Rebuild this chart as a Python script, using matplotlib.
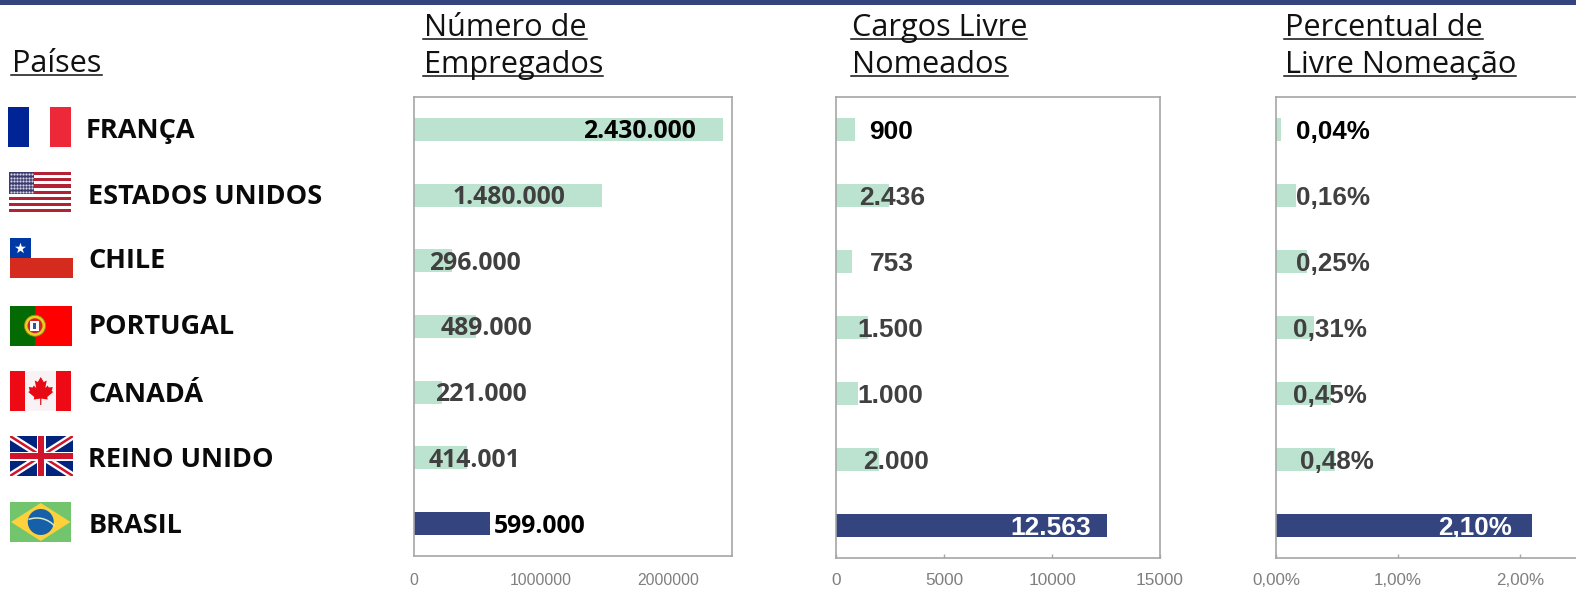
"""
Cargos de livre nomeação por país: três painéis de barras com bandeiras à esquerda
"""
import numpy as np
import matplotlib
matplotlib.use('Agg')
import matplotlib.pyplot as plt
from matplotlib.lines import Line2D
from matplotlib.patches import Rectangle, Polygon, Circle, Arc

# dados
paises = ['FRANÇA', 'ESTADOS UNIDOS', 'CHILE', 'PORTUGAL', 'CANADÁ', 'REINO UNIDO', 'BRASIL']
empregados = [2430000, 1480000, 296000, 489000, 221000, 414001, 599000]
cargos = [900, 2436, 753, 1500, 1000, 2000, 12563]
percentual = [0.04, 0.16, 0.25, 0.31, 0.45, 0.48, 2.10]

rotulos_empregados = ['2.430.000', '1.480.000', '296.000', '489.000', '221.000', '414.001', '599.000']
rotulos_cargos = ['900', '2.436', '753', '1.500', '1.000', '2.000', '12.563']
rotulos_percentual = ['0,04%', '0,16%', '0,25%', '0,31%', '0,45%', '0,48%', '2,10%']

ticks_empregados = [0, 1000000, 2000000]
ticklabels_empregados = ['0', '1000000', '2000000']
ticks_cargos = [0, 5000, 10000, 15000]
ticklabels_cargos = ['0', '5000', '10000', '15000']
ticks_percentual = [0, 1, 2]
ticklabels_percentual = ['0,00%', '1,00%', '2,00%']

W, H = 1576, 594
VERDE = '#bce2d0'
AZUL = '#34447f'
CINZA = '#a6a6a6'
ESCURO = '#404040'
OPEN = 'Open Sans'
ARIAL = 'Liberation Sans'

fig = plt.figure(figsize=(W / 100, H / 100), dpi=100, facecolor='white')


def caixa(x0, x1, y0, y1):
    return [x0 / W, 1 - y1 / H, (x1 - x0) / W, (y1 - y0) / H]


def painel(x0, x1, y1, valores, xmax, ticks, ticklabels, tick_size, marcas):
    ax = fig.add_axes(caixa(x0, x1, 97, y1))
    cores = [VERDE] * 6 + [AZUL]
    ax.barh(range(7), valores, height=0.35, color=cores)
    ax.set_xlim(0, xmax)
    ax.set_ylim(6.5, -0.5)
    ax.set_yticks([])
    ax.set_xticks(ticks)
    ax.set_xticklabels(ticklabels, family=ARIAL)
    ax.tick_params(axis='x', direction='in', length=marcas, width=1, color=CINZA,
                   labelcolor='#7f7f7f', labelsize=tick_size, pad=10.7 if marcas else 12)
    for s in ax.spines.values():
        s.set_color(CINZA)
        s.set_linewidth(1.2)
    return ax


ax1 = painel(414, 732, 556, empregados, 2500000, ticks_empregados, ticklabels_empregados, 11.3, 0)
ax2 = painel(836, 1160, 558, cargos, 15000, ticks_cargos, ticklabels_cargos, 12.4, 3)
ax3 = painel(1276, 1581, 558, percentual, 2.5, ticks_percentual, ticklabels_percentual, 12.2, 3)

# camada em pixels, por cima dos painéis
ov = fig.add_axes([0, 0, 1, 1], facecolor='none', zorder=5)
ov.set_xlim(0, W)
ov.set_ylim(H, 0)
ov.axis('off')

ov.add_patch(Rectangle((0, 0), W, 4.5, color=AZUL, lw=0))


def sublinhado(x, y, texto, size=22.1):
    t = ov.text(x, y, texto, family=OPEN, fontsize=size, color='#111111', va='baseline', ha='left')
    bb = t.get_window_extent(fig.canvas.get_renderer())
    ov.add_line(Line2D([x - 1, x - 1 + bb.width + 1], [y + 3, y + 3], color='#111111', lw=1.1))


sublinhado(12.5, 71.5, 'Países')
sublinhado(424, 36, 'Número de')
sublinhado(424, 73, 'Empregados')
sublinhado(852, 36, 'Cargos Livre')
sublinhado(852, 73, 'Nomeados')
sublinhado(1285, 36, 'Percentual de')
sublinhado(1285, 73, 'Livre Nomeação')

# nomes dos países
nome_x = [86, 88.5, 88.5, 88.5, 88.5, 88.5, 88.5]
nome_y = [137.7, 204, 268, 334.3, 401.7, 467.3, 533]
for x, y, nome in zip(nome_x, nome_y, paises):
    ov.text(x, y, nome, family=OPEN, fontweight='bold', fontsize=19.5, color='#0a0a0a', va='baseline')

# rótulos das barras (centro em x, em pixels)
centros1 = [639, 509, 475, 487, 481, 475, 540]
centros2 = [891, 892, 892, 890, 890, 896, 1051]
centros3 = [1333, 1333, 1333, 1330, 1330, 1337, 1475]
cores1 = ['black', ESCURO, ESCURO, ESCURO, ESCURO, ESCURO, 'black']
cores2 = ['black', ESCURO, ESCURO, ESCURO, ESCURO, ESCURO, 'white']

for i in range(7):
    y1 = 97 + (i + 0.5) * 65.7 + 8.5
    y2 = 97 + (i + 0.5) * 65.86 + 9.5
    ov.text(centros1[i], y1, rotulos_empregados[i], family=OPEN, fontweight='bold', fontsize=17.8,
            color=cores1[i], ha='center', va='baseline')
    ov.text(centros2[i], y2, rotulos_cargos[i], family=ARIAL, fontweight='bold', fontsize=19,
            color=cores2[i], ha='center', va='baseline')
    ov.text(centros3[i], y2, rotulos_percentual[i], family=ARIAL, fontweight='bold', fontsize=18.7,
            color=cores2[i], ha='center', va='baseline')


# bandeiras
def ret(x, y, w, h, cor, z=6):
    p = Rectangle((x, y), w, h, facecolor=cor, lw=0, zorder=z)
    ov.add_patch(p)
    return p


def franca(x, y, w, h):
    ret(x, y, w / 3, h, '#002395')
    ret(x + 2 * w / 3, y, w / 3, h, '#ed2939')


def eua(x, y, w, h):
    for k in range(13):
        ret(x, y + k * h / 13, w, h / 13, '#b22234' if k % 2 == 0 else 'white')
    cw, ch = w * 0.4, h * 7 / 13
    ret(x, y, cw, ch, '#3c3b6e')
    px = np.linspace(x + 2, x + cw - 2, 8)
    py = np.linspace(y + 2, y + ch - 2, 6)
    gx, gy = np.meshgrid(px, py)
    ov.scatter(gx.ravel(), gy.ravel(), s=2.5, c='#d5d5e6', lw=0, zorder=7)


def chile(x, y, w, h):
    ret(x, y, w, h / 2, 'white')
    ret(x, y + h / 2, w, h / 2, '#d52b1e')
    ret(x, y, w / 3, h / 2, '#0039a6')
    ov.scatter([x + w / 6], [y + h / 4], s=70, marker='*', c='white', lw=0, zorder=7)


def portugal(x, y, w, h):
    ret(x, y, w * 0.4, h, '#046a04')
    ret(x + w * 0.4, y, w * 0.6, h, '#ff0000')
    cx, cy = x + w * 0.4, y + h / 2
    ov.add_patch(Circle((cx, cy), 10.5, facecolor='#e8d020', edgecolor='#9a8a10', lw=0.6, zorder=7))
    ov.add_patch(Circle((cx, cy), 7.5, facecolor='#d8232a', lw=0, zorder=8))
    ret(cx - 4.5, cy - 5, 9, 10.5, 'white', z=9)
    ret(cx - 1.5, cy - 3, 3, 6, '#2a55a5', z=10)


def canada(x, y, w, h):
    ret(x, y, w, h, '#f8f2f4')
    ret(x, y, w / 4, h, '#ee0a14')
    ret(x + 3 * w / 4, y, w / 4, h, '#ee0a14')
    folha = [(0, -13), (3, -8), (6, -9.5), (4.5, -2), (7, -4.5), (8, -2.5), (12, -3), (11, 1), (12.5, 2),
             (6.5, 7), (7, 9.5), (0.6, 8.6), (0.6, 15), (-0.6, 15), (-0.6, 8.6), (-7, 9.5), (-6.5, 7),
             (-12.5, 2), (-11, 1), (-12, -3), (-8, -2.5), (-7, -4.5), (-4.5, -2), (-6, -9.5), (-3, -8)]
    cx, cy = x + w / 2, y + h / 2 - 1
    ov.add_patch(Polygon([(cx + a, cy + b) for a, b in folha], facecolor='#e60a14', lw=0, zorder=7))


def reino_unido(x, y, w, h):
    fundo = ret(x, y, w, h, '#00247d')
    for lw, cor in [(5, 'white'), (1.8, '#cf142b')]:
        for xs, ys in [([x, x + w], [y, y + h]), ([x, x + w], [y + h, y])]:
            ln = Line2D(xs, ys, color=cor, lw=lw, zorder=7, solid_capstyle='butt')
            ov.add_line(ln)
            ln.set_clip_path(fundo)
    ret(x + w / 2 - 4.5, y, 9, h, 'white', z=8)
    ret(x, y + h / 2 - 4.5, w, 9, 'white', z=8)
    ret(x + w / 2 - 3, y, 6, h, '#cf142b', z=9)
    ret(x, y + h / 2 - 3, w, 6, '#cf142b', z=9)


def brasil(x, y, w, h):
    ret(x, y, w, h, '#72c56c')
    ov.add_patch(Polygon([(x + 1, y + h / 2), (x + w / 2, y + 1), (x + w - 1, y + h / 2), (x + w / 2, y + h - 1)],
                         facecolor='#fdd13c', lw=0, zorder=7))
    cx, cy = x + w / 2, y + h / 2
    ov.add_patch(Circle((cx, cy), 13, facecolor='#1560a8', lw=0, zorder=8))
    ov.add_patch(Arc((cx - 4, cy + 20), 48, 48, theta1=250, theta2=318, color='#d8e8c8', lw=1.1, zorder=9))


franca(8, 107, 63, 40)
eua(9.5, 172, 62, 40.5)
chile(10, 237.5, 63, 40)
portugal(10, 306, 62.5, 39.5)
canada(10, 371, 61.5, 40)
reino_unido(10, 436, 63, 40)
brasil(10, 502, 61.5, 40)

plt.savefig('out.png', dpi=100, facecolor='white')
